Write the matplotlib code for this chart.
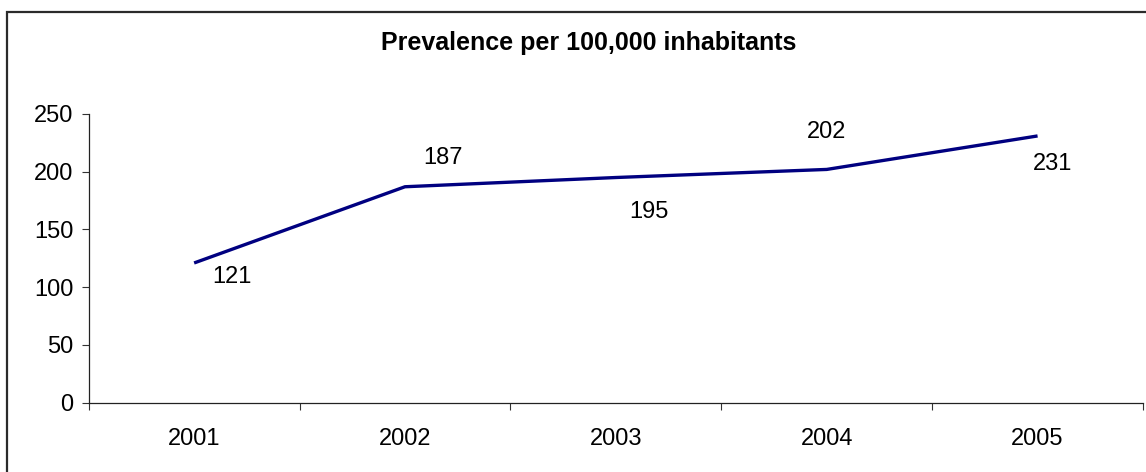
import matplotlib
matplotlib.use("Agg")
import matplotlib.pyplot as plt
from matplotlib.patches import Rectangle

plt.rcParams['font.family'] = ['Liberation Sans', 'DejaVu Sans']

years = ["2001", "2002", "2003", "2004", "2005"]
prevalence = [121, 187, 195, 202, 231]
label_offsets = [(38, -14), (38, 29), (33, -34), (0, 37), (15, -28)]  # pixels
y_ticks = [0, 50, 100, 150, 200, 250]

W, H = 1146, 472
fig = plt.figure(figsize=(W / 100, H / 100), dpi=100)
fig.patch.set_facecolor("white")

# outer frame of the chart area
fig.add_artist(Rectangle((7 / W, -0.2), 1.2, 1 - 12 / H + 0.2,
                         transform=fig.transFigure, fill=False,
                         edgecolor="#2b2b2b", linewidth=1.6))

left, right = 88.7 / W, 1143 / W
bottom, top = 1 - 402.7 / H, 1 - 114 / H
ax = fig.add_axes([left, bottom, right - left, top - bottom])

x = list(range(len(years)))
ax.plot(x, prevalence, color="#000080", linewidth=2.4, solid_capstyle="butt")

fs = 17
for xi, v, (dx, dy) in zip(x, prevalence, label_offsets):
    ax.annotate(str(v), (xi, v), xytext=(dx, dy), textcoords="offset pixels",
                ha="center", va="center", fontsize=fs, color="black")

ax.set_xlim(-0.5, len(years) - 0.5)
ax.set_ylim(0, 250)

# category boundaries as ticks, labels centred between them
ax.set_xticks([i - 0.5 for i in range(len(years) + 1)])
ax.set_xticklabels([])
ax.set_xticks(x, minor=True)
ax.set_xticklabels(years, minor=True, fontsize=fs)
ax.tick_params(axis="x", which="major", direction="out", length=5, width=0.8, color="#333333")
ax.tick_params(axis="x", which="minor", length=0, pad=18)

ax.set_yticks(y_ticks)
ax.set_yticklabels([str(t) for t in y_ticks], fontsize=fs)
ax.tick_params(axis="y", direction="out", length=5, width=0.8, pad=6, color="#333333")

for s in ["top", "right"]:
    ax.spines[s].set_visible(False)
for s in ["left", "bottom"]:
    ax.spines[s].set_linewidth(0.9)
    ax.spines[s].set_color("#222222")

fig.text(589 / W, 1 - 43 / H, "Prevalence per 100,000 inhabitants",
         ha="center", va="center", fontsize=18, fontweight="bold")

fig.savefig("out.png", dpi=100, facecolor="white")
